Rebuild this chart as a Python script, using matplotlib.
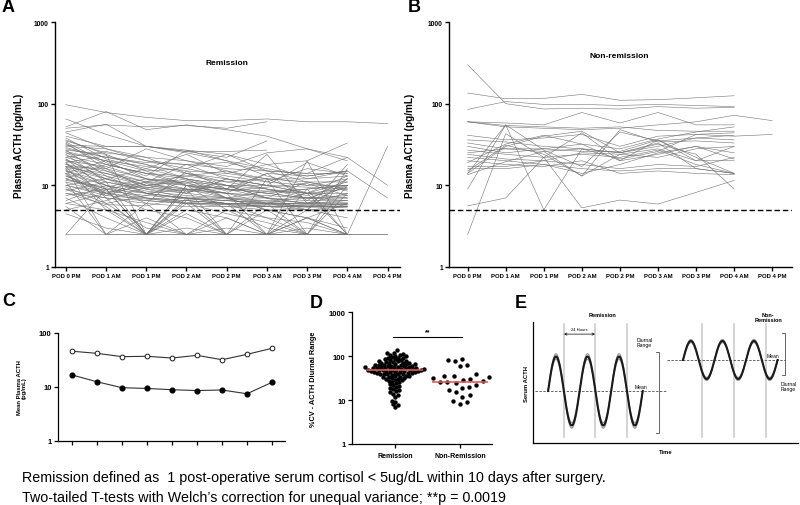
import numpy as np
import matplotlib
matplotlib.use('Agg')
import matplotlib.pyplot as plt

plt.rcParams['font.family'] = ['Liberation Sans', 'DejaVu Sans']

N = np.nan
timepoints = ['POD 0 PM', 'POD 1 AM', 'POD 1 PM', 'POD 2 AM', 'POD 2 PM',
              'POD 3 AM', 'POD 3 PM', 'POD 4 AM', 'POD 4 PM']

# panel A - remission patients, plasma ACTH (pg/mL), 2.5 = below detection
remission_acth = [
    [97, 78, 68, 62, 62, 65, 60, 60, 57],
    [52, 80, 48, 55, 48, 40, 28, 22, 10],
    [50, 55, 52, 54, 50, 60, N, N, N],
    [65, 42, 30, 25, 20, 16, 13, 15, 7],
    [28, 22, 18, 14, 12, 10, 8, 2.5, 30],
    [45, 56, 30, 26, 22, 35, N, N, N],
    [40, 30, 30, 27, 24, 18, 20, 33, N],
    [35, 25, 22, 20, 17, 25, 28, 20, N],
    [30, 28, 20, 18, 16, 15, 14, 22, N],
    [32, 18, 14, 12, 10, 9, 8, 9, N],
    [25, 20, 17, 15, 14, 12, 12, 13, N],
    [22, 16, 12, 10, 9, 8, 7, 7, N],
    [20, 14, 10, 9, 8, 7, 6.5, 6.5, N],
    [18, 12, 8, 7, 6.5, 6, 5.5, 6, N],
    [15, 10, 7, 6, 6, 5.5, 5.5, 5.5, N],
    [12, 9, 7, 6.5, 6, 6, 6, 6.5, N],
    [10, 8, 6.5, 6, 5.5, 5.5, 5, 5.5, N],
    [8, 7, 6, 5.5, 5.5, 5, 5, 5, N],
    [27, 24, 2.5, 6, 2.5, 12, 2.5, 10, N],
    [24, 11, 2.5, 10, 8, 2.5, 9, 2.5, N],
    [21, 9, 2.5, 7, 2.5, 6, 2.5, 8, N],
    [19, 7, 2.5, 5, 4, 2.5, 5, 12, N],
    [17, 5, 2.5, 9, 2.5, 2.5, 2.5, 2.5, N],
    [16, 2.5, 4, 2.5, 3, 2.5, 4, 2.5, N],
    [14, 6, 3, 2.5, 5, 4, 2.5, 16, N],
    [13, 8, 5, 4, 2.5, 2.5, 20, 2.5, 2.5],
    [11, 2.5, 2.5, 2.5, 2.5, 2.5, 2.5, 2.5, 2.5],
    [9, 5.5, 2.5, 6.5, 6, 2.5, 3, 2.5, N],
    [7, 4, 2.5, 10, 5, 3, 2.5, 2.5, N],
    [6, 5, 3.5, 2.5, 2.5, 2.5, 4, 2.5, N],
    [5.5, 2.5, 2.5, 4.5, 2.5, 5, 2.5, 2.5, N],
    [2.5, 9, 2.5, 2.5, 4, 2.5, 2.5, 2.5, N],
    [2.5, 2.5, 6, 2.5, 2.5, 2.5, 2.5, 2.5, N],
    [4.5, 3, 2.5, 3, 2.5, 2.5, 2.5, 2.5, N],
    [31, 30, 30, 26, 26, 27, N, N, N],
    [29, 22, 19, 18, 19, 15, 14, 14, N],
    [26, 20, 15, 16, 13, 11, 10, 10, N],
    [23, 18, 14, 13, 11, 12, 11, 11, N],
    [20, 17, 12, 11, 10, 10, 9.5, 9, N],
    [18, 15, 11, 10, 9, 8.5, 8, 8, N],
    [17, 13, 10, 8.5, 8, 7.5, 7, 7.5, N],
    [16, 12, 9, 8, 7, 6.5, 7, 7, N],
    [15, 11, 8.5, 7.5, 7, 7, 6, 6, N],
    [14, 10, 8, 7, 6.5, 6, 6, 5.8, N],
    [13, 9, 8, 6.8, 6.5, 6.2, 5.8, 5.8, N],
    [12, 8.5, 7.5, 7, 6, 5.8, 5.6, 5.6, N],
    [11, 8, 7, 6.5, 6, 6, 5.6, 5.5, N],
    [10, 7.5, 6.8, 6.2, 5.8, 5.5, 5.5, 5.5, N],
    [9, 7, 6.5, 6, 5.8, 5.6, 5.4, 5.4, N],
    [38, 21, 16, 24, 14, 18, 12, 15, N],
    [34, 19, 13, 27, 20, 13, 10, 12, N],
    [22, 26, 20, 16, 24, 15, 11, 9, N],
    [19, 23, 18, 12, 10, 8, 9, 10, N],
    [17, 16, 28, 20, 15, 12, 8, 11, N],
    [14, 20, 12, 9, 7, 6, 8, 13, N],
    [12, 18, 14, 10, 8, 6, 5, 18, N],
    [10, 12, 16, 12, 9, 7, 6, 8, N],
    [8.5, 11, 9, 14, 11, 9, 7, 9.5, N],
    [7.5, 9, 11, 8, 12, 10, 8, 7, N],
    [6.5, 10, 8, 9, 9, 14, 6.5, 12, N],
    [6, 8, 10, 11, 7, 8.5, 9, 10, N],
    [5, 6.5, 9.5, 8.5, 10, 7, 11, 8.5, N],
    [44, 28, 22, 14, 10, 7, 5, 4, N],
    [36, 24, 15, 10, 7, 5, 4, 3, N],
    [33, 16, 9, 7, 6, 4, 3.5, 2.5, N],
    [27, 13, 8, 6, 4.5, 3.5, 2.5, 2.5, N],
    [25, 15, 10, 12, 7, 5, 4, 6, N],
    [21, 12, 9.5, 8, 12, 9, 7.5, 10, N],
    [18.5, 10, 6, 15, 9, 24, 6, 10, N],
    [16.5, 14, 11, 18, 12, 10, 19, 13, N],
    [15.5, 8, 11, 13, 15, 11, 16, 14, N],
    [13.5, 7.5, 10.5, 9, 8, 14, 13, 15, N],
    [11.5, 9.5, 12, 10.5, 9, 8, 7, 6.5, N],
    [9.5, 6, 7.5, 11.5, 8.5, 9.5, 10.5, 7.5, N],
    [8, 5.8, 5.6, 7.2, 6.8, 6.4, 6.2, 6.1, N],
]

# panel B - non-remission patients
nonremission_acth = [
    [300, 100, 86, 88, 86, 92, 88, 90, N],
    [135, 115, 116, 130, 110, 112, 118, 125, N],
    [85, 106, 98, 98, 95, 98, 95, 92, N],
    [60, 54, 52, 50, 52, 47, 46, 46, N],
    [60, 58, 55, 78, 58, 78, 55, 55, N],
    [60, 52, 50, 48, 50, 55, 60, 72, 62],
    [41, 36, 38, 42, 30, 40, 42, 40, 42],
    [36, 34, 30, 28, 25, 30, 38, 36, N],
    [33, 28, 28, 32, 20, 24, 30, 21, N],
    [30, 25, 28, 26, 26, 36, 22, 14, N],
    [27, 24, 22, 24, 22, 27, 18, 14, N],
    [24, 21, 20, 18, 16, 18, 17, 22, N],
    [22, 20, 18, 16, 15, 16, 16, 14, N],
    [20, 18, 17, 20, 14, 15, 14, 13.5, N],
    [17, 17, 20, 25, 24, 28, 20, 20, N],
    [16, 16, 18, 14, 18, 25, 30, 25, N],
    [15, 31, 24, 13, 24, 22, 28, 30, N],
    [14, 55, 27, 17, 45, 35, 38, 41, N],
    [13.5, 19.5, 26, 28, 21, 26, 42, 44, N],
    [9, 55, 5, 28, 25, 32, 24, 9, N],
    [5.6, 7, 22, 5.3, 6.6, 5.9, 8.2, 11.5, N],
    [2.5, 43, 22, 44, 20, 36, 20, 30, N],
    [14, 30, 40, 46, 25, 33, 16, 14, N],
    [25, 28, 26, 13, 48, 34, 35, 33, N],
    [19, 32, 41, 32, 28, 37, 45, 52, N],
]

# panel C - mean plasma ACTH
mean_nonremission = [46, 42, 36.5, 37, 34.4, 38.6, 32, 40.3, 52]
mean_remission = [16.7, 12.5, 9.7, 9.4, 8.9, 8.6, 8.8, 7.5, 12.2]

# panel D - %CV ACTH diurnal range
groups = ['Remission', 'Non-Remission']
cv_remission = [135, 120, 115, 110, 108, 105, 102,
                98, 95, 92, 90, 88, 86, 84, 82, 80,
                78, 76, 75, 74, 72, 71, 70, 69, 68, 67, 66, 65,
                64, 63, 62, 61, 60, 60, 59, 58, 57, 57, 56, 55, 55, 54, 53, 53,
                52, 52, 51, 51, 50, 50,
                49, 49, 48, 48, 48, 47, 47, 46, 46, 45, 45, 44, 44, 43, 43, 42,
                42, 41, 41, 40, 40,
                39, 38, 38, 37, 36, 36, 35, 34, 33, 33, 32, 31, 30, 30,
                29, 28, 27, 26, 25, 24, 23, 22, 21, 20,
                19, 18, 17, 16, 15, 14, 13, 12,
                9.5, 9, 8, 7.5, 7]
cv_nonremission = [85, 80, 78, 62, 58, 38, 36, 35, 33, 32, 30, 28, 27, 26, 25,
                   24, 22, 20, 19, 17, 15, 13, 12, 9.5, 9, 8.2]
cv_medians = [48, 26]
p_label = '**'

# panel E - schematic (levels in arbitrary units)
schem_mean = [43, 68.6]
schem_amp = [28.5, 15.7]
schem_start = [5.7, 56.6]
schem_period = 11.9

footer = ['Remission defined as  1 post-operative serum cortisol < 5ug/dL within 10 days after surgery.',
          'Two-tailed T-tests with Welch\u2019s correction for unequal variance; **p = 0.0019']

W, H = 800, 506
fig = plt.figure(figsize=(8, 5.06), dpi=100)


def px_axes(l, t, r, b):
    return fig.add_axes([l / W, 1 - b / H, (r - l) / W, (b - t) / H])


def style_axes(ax, lw=1.0):
    for s in ['top', 'right']:
        ax.spines[s].set_visible(False)
    for s in ['left', 'bottom']:
        ax.spines[s].set_linewidth(lw)
    ax.tick_params(width=lw, length=3, pad=1.5)


def spaghetti(ax, data, title, title_xy, xlim, label_off):
    x = np.arange(len(timepoints))
    for row in data:
        ax.plot(x, row, color='0.45', lw=0.4)
    ax.axhline(5, color='k', lw=1.0, ls=(0, (4, 2)))
    ax.set_yscale('log')
    ax.set_ylim(1, 1000)
    ax.set_xlim(*xlim)
    ax.set_yticks([1, 10, 100, 1000])
    ax.set_yticklabels(['1', '10', '100', '1000'], fontsize=4.8, fontweight='bold')
    ax.minorticks_off()
    ax.set_xticks(x)
    ax.set_xticklabels(timepoints, fontsize=4.3, fontweight='bold')
    style_axes(ax)
    ax.set_ylabel('Plasma ACTH (pg/mL)', fontsize=7.2, fontweight='bold')
    ax.yaxis.set_label_coords(label_off, 0.5)
    ax.text(title_xy[0], title_xy[1], title, ha='center', va='center',
            fontsize=6, fontweight='bold')


axA = px_axes(55, 23, 400, 268)
spaghetti(axA, remission_acth, 'Remission', (4.0, 320), (-0.27, 8.31), -31 / 345)
axB = px_axes(449, 23, 792, 268)
spaghetti(axB, nonremission_acth, 'Non-remission', (3.98, 390), (-0.49, 8.52), -34 / 343)

# panel C
axC = px_axes(58, 334, 285, 442)
xc = np.arange(len(timepoints))
axC.plot(xc, mean_nonremission, color='0.2', lw=0.8, marker='o', ms=3.4,
         mfc='white', mec='0.1', mew=0.7)
axC.plot(xc, mean_remission, color='0.2', lw=0.8, marker='o', ms=3.4,
         mfc='black', mec='black')
axC.set_yscale('log')
axC.set_ylim(1, 100)
axC.set_xlim(-0.56, 8.52)
axC.set_yticks([1, 10, 100])
axC.set_yticklabels(['1', '10', '100'], fontsize=5.5, fontweight='bold')
axC.minorticks_off()
axC.set_xticks(xc)
axC.set_xticklabels([])
style_axes(axC, 0.9)
axC.set_ylabel('Mean Plasma ACTH\n(pg/mL)', fontsize=4.2, fontweight='bold',
               linespacing=1.1)
axC.yaxis.set_label_coords(-31 / 227, 0.5)


# panel D - beeswarm layout in pixel space
def swarm(vals, d, per_decade):
    ys = np.log10(np.asarray(vals, float)) * per_decade
    offs = np.zeros(len(ys))
    placed = []
    for i in np.argsort(ys):
        y = ys[i]
        cands = [0.0]
        for px, py in placed:
            dy = y - py
            if abs(dy) < d:
                dx = np.sqrt(d * d - dy * dy)
                cands += [px + dx, px - dx]
        cands.sort(key=abs)
        for c in cands:
            if all((c - px) ** 2 + (y - py) ** 2 >= d * d - 1e-6 for px, py in placed):
                offs[i] = c
                break
        placed.append((offs[i], y))
    return offs


axD = px_axes(352, 313, 492, 445)
unit = 65.0
for gi, (vals, dd) in enumerate([(cv_remission, 3.3), (cv_nonremission, 7.5)]):
    offs = swarm(vals, dd, 44.0) / unit
    axD.scatter(gi + offs, vals, s=10, color='black', lw=0, zorder=3)
    axD.plot([gi - 0.415, gi + 0.415], [cv_medians[gi]] * 2, color='#e25a5a',
             lw=1.4, alpha=0.85, zorder=4)
axD.plot([-0.03, 1.03], [273, 273], color='black', lw=0.8)
axD.text(0.5, 300, p_label, ha='center', va='bottom', fontsize=5, fontweight='bold')
axD.set_yscale('log')
axD.set_ylim(1, 1000)
axD.set_xlim(-0.66, 1.49)
axD.set_yticks([1, 10, 100, 1000])
axD.set_yticklabels(['1', '10', '100', '1000'], fontsize=5.5, fontweight='bold')
axD.minorticks_off()
axD.set_xticks([0, 1])
axD.set_xticklabels(groups, fontsize=5, fontweight='bold')
style_axes(axD, 0.9)
axD.tick_params(axis='x', pad=3)
axD.set_ylabel('%CV - ACTH Diurnal Range', fontsize=5.3, fontweight='bold')
axD.yaxis.set_label_coords(-35 / 140, 0.5)

# panel E - schematic
axE = px_axes(533, 323, 798, 444)
axE.set_xlim(0, 100)
axE.set_ylim(0, 100)
axE.set_xticks([])
axE.set_yticks([])
style_axes(axE, 0.9)
vlines = [[11.7, 23.4, 35.5], [63.8, 75.8, 87.9]]
for k in range(2):
    for xv in vlines[k]:
        axE.plot([xv, xv], [5, 98.3], color='0.78', lw=1.1, zorder=1)
    t = np.linspace(schem_start[k], schem_start[k] + 3 * schem_period, 300)
    ph = np.sin(2 * np.pi * (t - schem_start[k]) / schem_period)
    for f in (1.08, 0.92):
        axE.plot(t, schem_mean[k] + f * schem_amp[k] * ph, color='0.6', lw=0.9, zorder=2)
    axE.plot(t, schem_mean[k] + schem_amp[k] * ph, color='0.1', lw=1.5, zorder=3)
axE.plot([0.8, 50.6], [schem_mean[0]] * 2, color='0.4', lw=0.7, ls=(0, (2.5, 1.5)), zorder=1)
axE.plot([50.6, 95.1], [schem_mean[1]] * 2, color='0.4', lw=0.7, ls=(0, (2.5, 1.5)), zorder=1)
# brackets
for xb, y0, y1 in [(47.5, 8.3, 75.2), (95.1, 56.2, 91.0)]:
    axE.plot([xb - 1.2, xb, xb, xb - 1.2], [y0, y0, y1, y1], color='0.3', lw=0.6)
axE.annotate('', xy=(11.7, 90), xytext=(23.4, 90),
             arrowprops=dict(arrowstyle='<->', lw=0.5, color='k', shrinkA=0, shrinkB=0,
                             mutation_scale=4))
axE.text(17.5, 94.5, '24 Hours', ha='center', va='center', fontsize=3)
axE.text(39.2, 83.5, 'Diurnal\nRange', ha='left', va='center', fontsize=3.6, linespacing=1.1)
axE.text(40.8, 47, 'Mean', ha='center', va='center', fontsize=3.6)
axE.text(90.6, 72, 'Mean', ha='center', va='center', fontsize=3.6)
axE.text(93.4, 47, 'Diurnal\nRange', ha='left', va='center', fontsize=3.6, linespacing=1.1)
axE.text(26.4, 105.8, 'Remission', ha='center', va='center', fontsize=4, fontweight='bold',
         clip_on=False)
axE.text(88.7, 104, 'Non-\nRemission', ha='center', va='center', fontsize=4,
         fontweight='bold', linespacing=1.1, clip_on=False)
axE.set_xlabel('Time', fontsize=4.2, fontweight='bold', labelpad=4)
axE.set_ylabel('Serum ACTH', fontsize=4.2, fontweight='bold', labelpad=3)

# panel letters
for lab, (lx, ly) in {'A': (2, 8), 'B': (408, 8), 'C': (2, 302),
                      'D': (310, 303), 'E': (515, 303)}.items():
    fig.text(lx / W, 1 - ly / H, lab, fontsize=13, fontweight='bold', va='center', ha='left')

fig.text(22 / W, 1 - 478 / H, footer[0], fontsize=10.25, va='center', ha='left')
fig.text(22 / W, 1 - 498 / H, footer[1], fontsize=10.25, va='center', ha='left')

fig.savefig('out.png', dpi=100)
